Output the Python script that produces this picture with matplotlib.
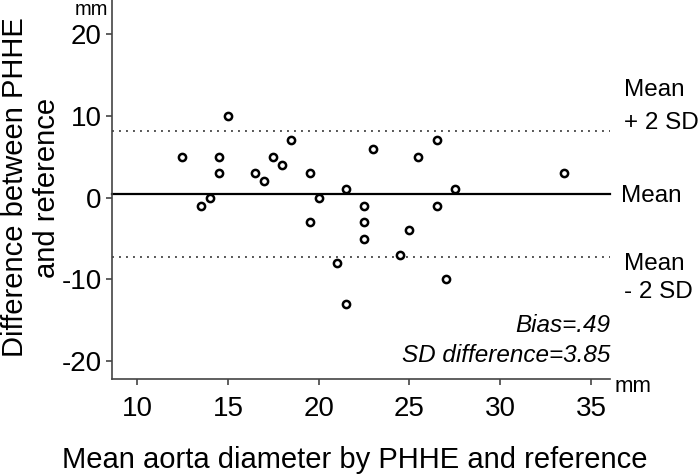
import matplotlib
matplotlib.use("Agg")
import matplotlib.pyplot as plt
import matplotlib.transforms as mtransforms

plt.rcParams['font.family'] = ['Liberation Sans', 'DejaVu Sans']
plt.rcParams['axes.unicode_minus'] = False

# Data
mean_diameter = [15, 12.5, 14.5, 14.5, 16.5, 17, 17.5, 18, 18.5, 19.5, 20, 19.5, 13.5, 14,
                 21.5, 23, 22.5, 22.5, 22.5, 25.5, 26.5, 25, 26.5, 27.5, 33.5, 24.5, 21, 27, 21.5]
difference = [10, 5, 5, 3, 3, 2, 5, 4, 7, 3, 0, -3, -1, 0,
              1, 6, -1, -3, -5, 5, 7, -4, -1, 1, 3, -7, -8, -10, -13]
bias = 0.49
sd_diff = 3.85
x_ticks = [10, 15, 20, 25, 30, 35]
y_ticks = [-20, -10, 0, 10, 20]

fig = plt.figure(figsize=(7, 4.75), dpi=100)
ax = fig.add_axes([111.7 / 700, 1 - 379 / 475, (610 - 111.7) / 700, 379 / 475])

upper = bias + 2 * sd_diff
lower = bias - 2 * sd_diff

ax.axhline(bias, color='black', lw=1.6, zorder=2, clip_on=False)
ax.axhline(upper, color='#555555', lw=1.4, ls=(0, (1, 2.6)), zorder=2, clip_on=False)
ax.axhline(lower, color='#555555', lw=1.4, ls=(0, (1, 2.6)), zorder=2, clip_on=False)

ax.plot(mean_diameter, difference, linestyle='none', marker='o', ms=5.2,
        mfc='white', mec='black', mew=1.8, zorder=3)

ax.set_xlim(8.6, 36.05)
ax.set_ylim(-22.2, 24.2)
ax.set_xticks(x_ticks)
ax.set_yticks(y_ticks)
ax.set_xticklabels([str(v) for v in x_ticks])
ax.set_yticklabels([str(v) for v in y_ticks])

for s in ['top', 'right']:
    ax.spines[s].set_visible(False)
for s in ['left', 'bottom']:
    ax.spines[s].set_color('#444444')
    ax.spines[s].set_linewidth(1.2)
ax.tick_params(axis='both', direction='out', length=4.3, width=1.2, color='#444444',
               labelsize=20, labelcolor='black')
ax.tick_params(axis='x', pad=8)
ax.tick_params(axis='y', pad=3)

trans = mtransforms.blended_transform_factory(ax.transAxes, ax.transData)
lab_kw = dict(xycoords=trans, textcoords='offset points', fontsize=17.5, va='baseline', ha='left')
ax.annotate('Mean', xy=(1, upper), xytext=(10, 25), **lab_kw)
ax.annotate('+ 2 SD', xy=(1, upper), xytext=(10, 1.2), **lab_kw)
ax.annotate('Mean', xy=(1, bias), xytext=(8, -6), **lab_kw)
ax.annotate('Mean', xy=(1, lower), xytext=(10, -10), **lab_kw)
ax.annotate('- 2 SD', xy=(1, lower), xytext=(10, -30), **lab_kw)

ax.text(1.0, (379 - 332) / 379, 'Bias=.49', transform=ax.transAxes, ha='right',
        va='baseline', fontsize=17.5, style='italic')
ax.text(1.0, (379 - 362) / 379, 'SD difference=3.85', transform=ax.transAxes, ha='right',
        va='baseline', fontsize=17.5, style='italic')

fig.text(108 / 700, 1.0, 'mm', ha='right', va='top', fontsize=14.5)
fig.text(615 / 700, 1 - 392 / 475, 'mm', ha='left', va='baseline', fontsize=16)

fig.text(31 / 700, 1 - 187.5 / 475, 'Difference between PHHE\nand reference', rotation=90,
         ha='center', va='center', multialignment='center', fontsize=21, linespacing=1.15)
fig.text(354.5 / 700, 1 - 468 / 475, 'Mean aorta diameter by PHHE and reference',
         ha='center', va='baseline', fontsize=21)

fig.savefig('out.png', dpi=100)
